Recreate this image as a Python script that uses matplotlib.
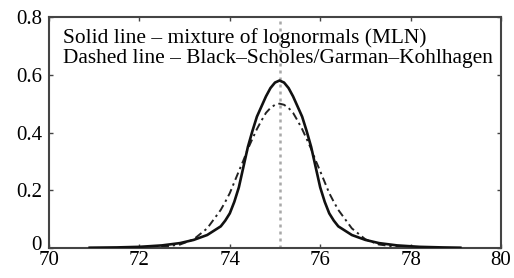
import matplotlib
matplotlib.use("Agg")
import matplotlib.pyplot as plt
from matplotlib.transforms import ScaledTranslation

plt.rcParams['font.family'] = ['Liberation Serif', 'DejaVu Serif']

# Data
x_vals = [70.9, 71.5, 72.0, 72.5, 72.9, 73.2, 73.5,
          73.8, 73.9, 74.0, 74.1, 74.2, 74.3, 74.4, 74.5, 74.6, 74.7, 74.8, 74.9, 75.0,
          75.1,
          75.2, 75.3, 75.4, 75.5, 75.6, 75.7, 75.8, 75.9, 76.0, 76.1, 76.2, 76.3, 76.4,
          76.7, 77.0, 77.3, 77.7, 78.2, 78.7, 79.1]
mln_density = [0.001, 0.002, 0.004, 0.009, 0.017, 0.028, 0.045,
               0.075, 0.095, 0.12, 0.16, 0.21, 0.28, 0.35, 0.405, 0.455, 0.49, 0.525, 0.554, 0.573,
               0.580,
               0.573, 0.554, 0.525, 0.49, 0.455, 0.405, 0.35, 0.28, 0.21, 0.16, 0.12, 0.095, 0.075,
               0.045, 0.028, 0.017, 0.009, 0.004, 0.002, 0.001]
bs_density = [0.0, 0.0, 0.001, 0.004, 0.012, 0.030, 0.068,
              0.132, 0.160, 0.190, 0.228, 0.266, 0.303, 0.343, 0.378, 0.412, 0.441, 0.468, 0.485, 0.496,
              0.500,
              0.496, 0.485, 0.468, 0.441, 0.412, 0.378, 0.343, 0.303, 0.266, 0.228, 0.190, 0.160, 0.132,
              0.068, 0.030, 0.012, 0.004, 0.001, 0.0, 0.0]
forward_level = 75.1
x_ticks = [70, 72, 74, 76, 78, 80]
y_ticks = [0, 0.2, 0.4, 0.6, 0.8]
y_tick_labels = ['0', '0.2', '0.4', '0.6', '0.8']
line1 = "Solid line – mixture of lognormals (MLN)"
line2 = "Dashed line – Black–Scholes/Garman–Kohlhagen"

fig = plt.figure(figsize=(5.14, 2.78), dpi=100)
ax = fig.add_axes([49/514, 1-248/278, (501-49)/514, (248-17)/278])

ax.axvline(forward_level, color='#a8a8a8', lw=1.8, ls=(0, (1.2, 1.6)), zorder=1)
ax.plot(x_vals, bs_density, color='#222222', lw=1.4, ls=(0, (4, 2, 1.2, 2)), zorder=2)
ax.plot(x_vals, mln_density, color='#111111', lw=1.9, zorder=3)

ax.set_xlim(70, 80)
ax.set_ylim(0, 0.8)
ax.set_xticks(x_ticks)
ax.set_yticks(y_ticks)
ax.set_yticklabels(y_tick_labels)
ax.tick_params(direction='in', length=3, width=1, colors='#444444', labelcolor='black',
               labelsize=15, top=True, right=True)
ax.tick_params(axis='x', pad=2.5)
ax.tick_params(axis='y', pad=5)
for s in ax.spines.values():
    s.set_color('#444444')
    s.set_linewidth(1.5)

# raise the "0" label slightly, as in the reference
zero_lbl = ax.get_yticklabels()[0]
zero_lbl.set_transform(zero_lbl.get_transform() + ScaledTranslation(0, 5/100, fig.dpi_scale_trans))

ax.text(70.31, 0.710, line1, fontsize=15.4, va='baseline', ha='left')
ax.text(70.31, 0.641, line2, fontsize=15.4, va='baseline', ha='left')

fig.savefig('out.png', dpi=100)
